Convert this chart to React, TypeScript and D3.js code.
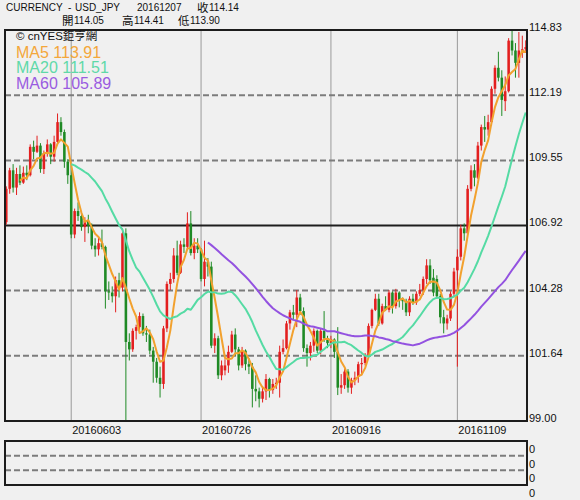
import React from 'react';
import * as d3 from 'd3';

// ---- data (USD/JPY daily) ----
const openP = [
  107.05, 108.40, 109.15, 108.45, 109.00, 108.65, 109.05, 108.95, 110.10, 109.90,
  110.15, 109.20, 109.85, 110.20, 109.70, 110.30, 111.10, 110.70, 109.50, 108.95,
  106.55, 107.50, 107.30, 106.85, 107.10, 106.90, 106.10, 105.95, 106.20, 106.05,
  104.25, 104.20, 104.05, 104.70, 104.40, 106.60, 102.20, 101.90, 102.65, 102.80,
  103.25, 102.55, 102.50, 101.85, 101.40, 100.75, 100.50, 102.75, 104.55, 104.75,
  105.70, 105.00, 106.15, 106.05, 107.00, 105.80, 106.10, 105.95, 104.75, 105.45,
  105.25, 102.05, 102.35, 100.85, 101.05, 101.25, 101.80, 102.50, 101.90, 101.25,
  101.85, 101.30, 101.20, 100.30, 100.20, 99.90, 100.20, 100.70, 100.25, 100.50,
  100.55, 101.80, 101.95, 102.95, 103.40, 103.30, 104.00, 103.45, 101.95, 101.75,
  102.05, 102.65, 101.85, 102.65, 102.35, 102.15, 102.30, 101.80, 100.35, 100.45,
  101.00, 100.35, 100.65, 100.80, 101.30, 101.35, 101.65, 102.85, 103.50, 103.95,
  102.95, 103.65, 103.50, 104.20, 103.65, 104.20, 103.90, 103.85, 103.40, 103.95,
  103.80, 104.15, 104.30, 104.75, 105.30, 104.80, 104.75, 104.05, 103.20, 102.95,
  103.15, 104.15, 105.10, 105.65, 106.80, 106.60, 108.40, 109.15, 108.85, 110.15,
  110.90, 110.80, 111.10, 112.45, 113.30, 112.90, 111.95, 112.35, 114.40, 114.00,
  113.50, 114.00, 114.05,
];
const highP = [
  108.50, 109.25, 109.40, 109.25, 109.35, 109.30, 109.35, 110.20, 110.35, 110.55,
  110.25, 109.95, 110.40, 110.25, 110.55, 111.45, 111.30, 110.80, 109.60, 109.35,
  107.60, 107.85, 107.45, 107.25, 107.35, 107.00, 106.40, 106.45, 106.75, 106.10,
  104.65, 104.45, 104.85, 105.00, 106.80, 106.80, 102.55, 102.75, 102.90, 103.40,
  103.35, 102.85, 102.70, 102.00, 101.55, 101.20, 102.85, 104.65, 105.00, 106.00,
  106.30, 106.30, 106.40, 107.45, 107.50, 106.40, 106.40, 106.00, 106.30, 105.60,
  105.45, 102.55, 102.45, 101.45, 101.50, 102.05, 102.65, 102.75, 102.00, 102.00,
  101.90, 101.55, 101.35, 100.85, 100.35, 100.40, 100.90, 100.75, 100.70, 100.75,
  102.05, 102.30, 103.05, 103.50, 103.70, 104.30, 104.15, 103.60, 102.10, 102.20,
  102.75, 102.70, 102.75, 103.45, 102.45, 102.45, 102.35, 102.80, 100.90, 101.10,
  101.10, 100.75, 101.00, 101.40, 101.55, 101.75, 102.95, 103.55, 104.15, 104.15,
  103.75, 104.05, 104.30, 104.25, 104.35, 104.25, 104.00, 103.95, 104.05, 104.15,
  104.25, 104.55, 104.85, 105.55, 105.55, 105.15, 104.90, 104.15, 103.50, 103.30,
  104.25, 105.20, 105.95, 106.95, 107.00, 108.55, 109.35, 109.40, 110.30, 111.00,
  111.35, 111.40, 112.55, 113.40, 113.95, 113.20, 112.95, 114.50, 114.80, 114.30,
  114.75, 114.60, 114.41,
];
const lowP = [
  106.95, 108.20, 108.25, 108.15, 108.55, 108.60, 108.75, 108.90, 109.60, 109.85,
  109.05, 109.00, 109.70, 109.40, 109.50, 110.25, 110.55, 109.25, 108.60, 106.40,
  106.40, 107.10, 106.70, 106.25, 106.60, 105.95, 105.65, 105.70, 105.95, 103.55,
  103.90, 103.80, 103.40, 104.00, 104.25, 99.00, 101.45, 101.80, 102.30, 102.55,
  102.45, 102.20, 101.70, 100.55, 100.55, 99.95, 100.30, 102.60, 104.30, 104.60,
  104.90, 104.95, 105.80, 105.95, 105.70, 105.55, 105.80, 104.65, 104.45, 104.85,
  101.95, 101.75, 100.70, 100.65, 100.85, 100.95, 101.75, 101.65, 101.05, 101.15,
  101.05, 100.90, 99.55, 99.80, 99.55, 99.75, 99.85, 99.95, 100.10, 100.30,
  99.95, 101.70, 101.90, 102.70, 103.10, 102.80, 103.30, 101.80, 101.20, 101.45,
  101.80, 101.75, 101.70, 102.20, 101.95, 101.95, 101.55, 100.05, 100.10, 100.30,
  100.15, 100.10, 100.45, 100.55, 100.85, 101.25, 101.60, 102.75, 103.45, 102.85,
  102.90, 103.45, 103.40, 103.35, 103.55, 103.60, 103.50, 103.25, 103.25, 103.70,
  103.70, 104.05, 104.10, 104.55, 104.55, 104.05, 103.95, 102.95, 102.55, 102.70,
  103.05, 104.00, 101.20, 105.50, 106.30, 106.55, 108.30, 108.50, 108.80, 109.95,
  110.30, 110.55, 110.95, 112.25, 112.75, 111.35, 111.55, 112.30, 113.80, 112.90,
  112.90, 113.70, 113.90,
];
const closeP = [
  108.40, 109.15, 108.45, 109.00, 108.65, 109.05, 108.95, 110.10, 109.90, 110.15,
  109.20, 109.85, 110.20, 109.70, 110.30, 111.10, 110.70, 109.50, 108.95, 106.55,
  107.50, 107.30, 106.85, 107.10, 106.90, 106.10, 105.95, 106.20, 106.05, 104.25,
  104.20, 104.05, 104.70, 104.40, 106.60, 102.20, 101.90, 102.65, 102.80, 103.25,
  102.55, 102.50, 101.85, 101.40, 100.75, 100.50, 102.75, 104.55, 104.75, 105.70,
  105.00, 106.15, 106.05, 107.00, 105.80, 106.10, 105.95, 104.75, 105.45, 105.25,
  102.05, 102.35, 100.85, 101.25, 101.25, 101.80, 102.50, 101.90, 101.25, 101.85,
  101.30, 101.20, 100.30, 100.20, 99.90, 100.20, 100.70, 100.25, 100.50, 100.55,
  101.80, 101.95, 102.95, 103.40, 103.30, 104.00, 103.45, 101.95, 101.75, 102.05,
  102.65, 101.85, 102.65, 102.35, 102.15, 102.30, 101.80, 100.35, 100.45, 101.00,
  100.35, 100.65, 100.75, 101.30, 101.35, 101.65, 102.85, 103.50, 103.95, 102.95,
  103.65, 103.50, 104.20, 103.65, 104.20, 103.90, 103.85, 103.40, 103.95, 103.80,
  104.15, 104.30, 104.75, 105.30, 104.70, 104.20, 104.05, 103.20, 102.95, 103.15,
  104.15, 105.05, 105.65, 106.80, 106.60, 108.40, 109.15, 108.85, 110.15, 110.90,
  110.80, 111.10, 112.45, 113.30, 112.90, 112.00, 112.35, 114.40, 114.00, 113.50,
  114.00, 114.05, 114.14,
];

const xTickIdx = [19, 57, 95, 132];
const xTickLabels = ['20160603', '20160726', '20160916', '20161109'];
const yTicks = [114.83, 112.19, 109.55, 106.92, 104.28, 101.64, 99.0];
const dashedLevels = [112.19, 109.55, 104.28, 101.64];
const solidLevels = [106.92];
const maPeriods = [5, 20, 60];
const maColors = ['#f2a12e', '#55dba4', '#9352e0'];
const maLegend = ['MA5 113.91', 'MA20 111.51', 'MA60 105.89'];
const maLegendColors = ['#f4a73a', '#5fd9a8', '#9a5ce0'];
const subLabels = ['0', '0', '0', '0'];

const UP = '#e31f1f';
const DOWN = '#1f8a25';

const PL = 5, PR = 527, PT = 30, PB = 421;
const SB_T = 441, SB_B = 485;

export default function App() {
  const n = closeP.length;
  const x = d3.scaleBand<number>().domain(d3.range(n)).range([PL, PR]).paddingInner(0.25);
  const bw = x.bandwidth();
  const xc = (i: number) => (x(i) as number) + bw / 2;
  const y = d3.scaleLinear().domain([yTicks[yTicks.length - 1], yTicks[0]]).range([PB, PT]);
  const yb = d3.scaleLinear().domain([0, 3]).range([SB_T, SB_B]);

  const line = d3.line<[number, number]>().x(d => xc(d[0])).y(d => y(d[1]));
  const maPaths = maPeriods.map(p => {
    const pts: [number, number][] = [];
    for (let i = p - 1; i < n; i++) {
      pts.push([i, d3.mean(closeP.slice(i - p + 1, i + 1)) as number]);
    }
    return line(pts) || '';
  });

  const font = "'Liberation Sans', Arial, 'Noto Sans CJK TC', sans-serif";
  const cjk = "'Noto Sans CJK TC', 'Liberation Sans', sans-serif";

  return (
    <div>
      <style>{`body{margin:0;background:#f0f0f0}`}</style>
      <svg width={580} height={500} style={{ display: 'block', background: '#f0f0f0' }} fontFamily={font}>
        <defs>
          <clipPath id="plot">
            <rect x={PL} y={PT} width={PR - PL} height={PB - PT} />
          </clipPath>
        </defs>
        {/* header */}
        <g fontSize={10} fill="#111">
          <text x={6} y={11}>CURRENCY</text>
          <text x={68} y={11}>-</text>
          <text x={75} y={11}>USD_JPY</text>
          <text x={137} y={11}>20161207</text>
          <text x={197} y={11.5} fontFamily={cjk} fontSize={11.5}>收</text>
          <text x={209} y={11}>114.14</text>
          <text x={62} y={24.5} fontFamily={cjk} fontSize={11.5}>開</text>
          <text x={74} y={24}>114.05</text>
          <text x={122} y={24.5} fontFamily={cjk} fontSize={11.5}>高</text>
          <text x={134} y={24}>114.41</text>
          <text x={178} y={24.5} fontFamily={cjk} fontSize={11.5}>低</text>
          <text x={190} y={24}>113.90</text>
        </g>

        {/* vertical grid */}
        {xTickIdx.map((idx, k) => (
          <line key={'vg' + k} x1={xc(idx)} x2={xc(idx)} y1={PT} y2={PB} stroke="#9a9a9a" strokeWidth={1} />
        ))}
        {/* horizontal levels */}
        {dashedLevels.map((v, k) => (
          <line key={'dl' + k} x1={PL} x2={PR} y1={y(v)} y2={y(v)} stroke="#7c7c7c" strokeWidth={2} strokeDasharray="6,3" />
        ))}
        {solidLevels.map((v, k) => (
          <line key={'sl' + k} x1={PL} x2={PR} y1={y(v)} y2={y(v)} stroke="#1e1e1e" strokeWidth={2} />
        ))}

        {/* legend */}
        <text x={16} y={40} fontSize={11.5} fill="#111" fontFamily={font}>© cnYES<tspan fontFamily={cjk}>鉅亨網</tspan></text>
        {maLegend.map((t, k) => (
          <text key={'lg' + k} x={16} y={57.5 + k * 15.7} fontSize={16} fill={maLegendColors[k]}>{t}</text>
        ))}

        {/* candles */}
        <g clipPath="url(#plot)">
          {closeP.map((c, i) => {
            const o = openP[i];
            const up = c >= o;
            const col = up ? UP : DOWN;
            const top = y(Math.max(o, c));
            const h = Math.max(1, Math.abs(y(o) - y(c)));
            return (
              <g key={'c' + i}>
                <line x1={xc(i)} x2={xc(i)} y1={y(highP[i])} y2={y(lowP[i])} stroke={col} strokeWidth={1} />
                <rect x={x(i) as number} y={top} width={bw} height={h} fill={col} />
              </g>
            );
          })}
          {maPaths.map((d, k) => (
            <path key={'ma' + k} d={d} fill="none" stroke={maColors[k]} strokeWidth={2} strokeLinejoin="round" />
          ))}
        </g>

        {/* main frame */}
        <rect x={PL} y={PT} width={PR - PL} height={PB - PT} fill="none" stroke="#1c1c1c" strokeWidth={2} />

        {/* right axis */}
        {yTicks.map((v, k) => (
          <text key={'yt' + k} x={529} y={y(v) + 1} fontSize={11} fill="#111">{v.toFixed(2)}</text>
        ))}
        {/* x axis labels */}
        {xTickIdx.map((idx, k) => (
          <text key={'xt' + k} x={xc(idx) + 1} y={434} fontSize={11} fill="#111">{xTickLabels[k]}</text>
        ))}

        {/* sub panel */}
        {[1, 2].map(k => (
          <line key={'sb' + k} x1={PL} x2={PR} y1={yb(k)} y2={yb(k)} stroke="#7c7c7c" strokeWidth={2} strokeDasharray="6,3" />
        ))}
        <rect x={PL} y={SB_T} width={PR - PL} height={SB_B - SB_T} fill="none" stroke="#1c1c1c" strokeWidth={2} />
        {subLabels.map((t, k) => (
          <text key={'sl' + k} x={529} y={yb(k) + 12} fontSize={11} fill="#111">{t}</text>
        ))}
      </svg>
    </div>
  );
}
